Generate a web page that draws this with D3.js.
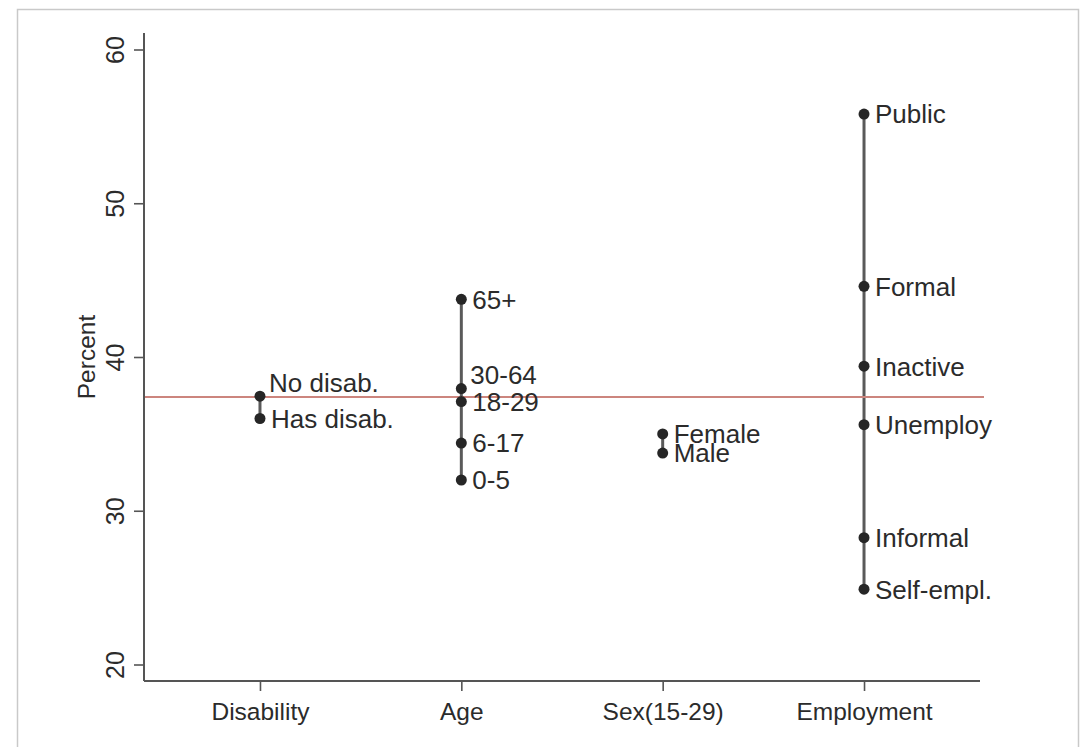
<!DOCTYPE html>
<html>
<head>
<meta charset="utf-8">
<script src="https://cdn.jsdelivr.net/npm/d3@7"></script>
<style>
  html, body { margin: 0; padding: 0; background: #ffffff; }
  svg { display: block; font-family: "Liberation Sans", Arial, Helvetica, sans-serif; }
</style>
</head>
<body>
<svg id="chart" width="1081" height="747"></svg>
<script>
// ---- data ----
const categories = ["Disability", "Age", "Sex(15-29)", "Employment"];
const disabilityLabels = ["No disab.", "Has disab."];
const disabilityValues = [37.45, 36.0];
const ageLabels = ["65+", "30-64", "18-29", "6-17", "0-5"];
const ageValues = [43.75, 37.95, 37.1, 34.4, 32.0];
const sexLabels = ["Female", "Male"];
const sexValues = [35.0, 33.75];
const employmentLabels = ["Public", "Formal", "Inactive", "Unemploy", "Informal", "Self-empl."];
const employmentValues = [55.8, 44.6, 39.4, 35.6, 28.25, 24.9];
const referenceValue = 37.4;
const yTicks = [20, 30, 40, 50, 60];
const yTitle = "Percent";

const groups = [
  { cat: categories[0], labels: disabilityLabels, values: disabilityValues },
  { cat: categories[1], labels: ageLabels, values: ageValues },
  { cat: categories[2], labels: sexLabels, values: sexValues },
  { cat: categories[3], labels: employmentLabels, values: employmentValues }
];
// labels placed at "2 o'clock" instead of "3 o'clock"
const raisedLabels = new Set(["No disab.", "30-64"]);

// ---- layout ----
const svg = d3.select("#chart");
const plotLeft = 144, plotRight = 980, plotTop = 33, plotBottom = 681;

const x = d3.scalePoint().domain(categories).range([plotLeft, plotRight]).padding(0.576);
const y = d3.scaleLinear().domain([20, 60]).range([664.5, 49.5]);

// outer frame
svg.append("rect")
  .attr("x", 17.5).attr("y", 9.5)
  .attr("width", 1061).attr("height", 760)
  .attr("fill", "#ffffff").attr("stroke", "#c9c9c9").attr("stroke-width", 1.5);

const axisColor = "#555555";
const textColor = "#2b2b2b";
const fontSize = 24.5;

// y axis
const yAxis = svg.append("g").attr("transform", `translate(${plotLeft},0)`)
  .call(d3.axisLeft(y).tickValues(yTicks).tickSize(10).tickFormat(d3.format("d")));
yAxis.select(".domain").remove();
yAxis.selectAll(".tick line").attr("stroke", axisColor).attr("stroke-width", 1.6);
yAxis.selectAll(".tick text")
  .attr("x", null).attr("dy", null)
  .attr("transform", "translate(-20,0) rotate(-90)")
  .attr("text-anchor", "middle")
  .attr("fill", textColor)
  .style("font-size", "25px")
  .style("font-family", "'Liberation Sans', Arial, sans-serif");
svg.append("line")
  .attr("x1", plotLeft).attr("x2", plotLeft)
  .attr("y1", plotTop).attr("y2", plotBottom)
  .attr("stroke", axisColor).attr("stroke-width", 2);

// x axis
const xAxis = svg.append("g").attr("transform", `translate(0,${plotBottom})`)
  .call(d3.axisBottom(x).tickSize(10).tickPadding(14));
xAxis.select(".domain").remove();
xAxis.selectAll(".tick line").attr("stroke", axisColor).attr("stroke-width", 1.6);
xAxis.selectAll(".tick text")
  .attr("fill", textColor)
  .attr("dy", null).attr("y", 39)
  .style("font-size", fontSize + "px")
  .style("font-family", "'Liberation Sans', Arial, sans-serif");
svg.append("line")
  .attr("x1", plotLeft).attr("x2", plotRight)
  .attr("y1", plotBottom).attr("y2", plotBottom)
  .attr("stroke", axisColor).attr("stroke-width", 2);

// y title
svg.append("text")
  .attr("transform", `translate(95,${(plotTop + plotBottom) / 2}) rotate(-90)`)
  .attr("text-anchor", "middle")
  .attr("fill", textColor)
  .style("font-size", fontSize + "px")
  .text(yTitle);

// range segments
svg.append("g").selectAll("line")
  .data(groups)
  .join("line")
  .attr("x1", d => x(d.cat)).attr("x2", d => x(d.cat))
  .attr("y1", d => y(d3.max(d.values))).attr("y2", d => y(d3.min(d.values)))
  .attr("stroke", "#5a5a5a").attr("stroke-width", 3);

// reference line
svg.append("line")
  .attr("x1", plotLeft + 1).attr("x2", plotRight + 4)
  .attr("y1", y(referenceValue)).attr("y2", y(referenceValue))
  .attr("stroke", "#cc857e").attr("stroke-width", 2.2);

// points and labels
const pts = groups.flatMap(g => g.values.map((v, i) => ({ cat: g.cat, v, label: g.labels[i] })));
svg.append("g").selectAll("circle")
  .data(pts)
  .join("circle")
  .attr("cx", d => x(d.cat)).attr("cy", d => y(d.v))
  .attr("r", 5.5)
  .attr("fill", "#262626");

svg.append("g").selectAll("text")
  .data(pts)
  .join("text")
  .attr("x", d => x(d.cat) + (raisedLabels.has(d.label) ? 9 : 11))
  .attr("y", d => y(d.v) + (raisedLabels.has(d.label) ? -14 : 0))
  .attr("dy", "0.36em")
  .attr("fill", textColor)
  .style("font-size", "26px")
  .text(d => d.label);
</script>
</body>
</html>
